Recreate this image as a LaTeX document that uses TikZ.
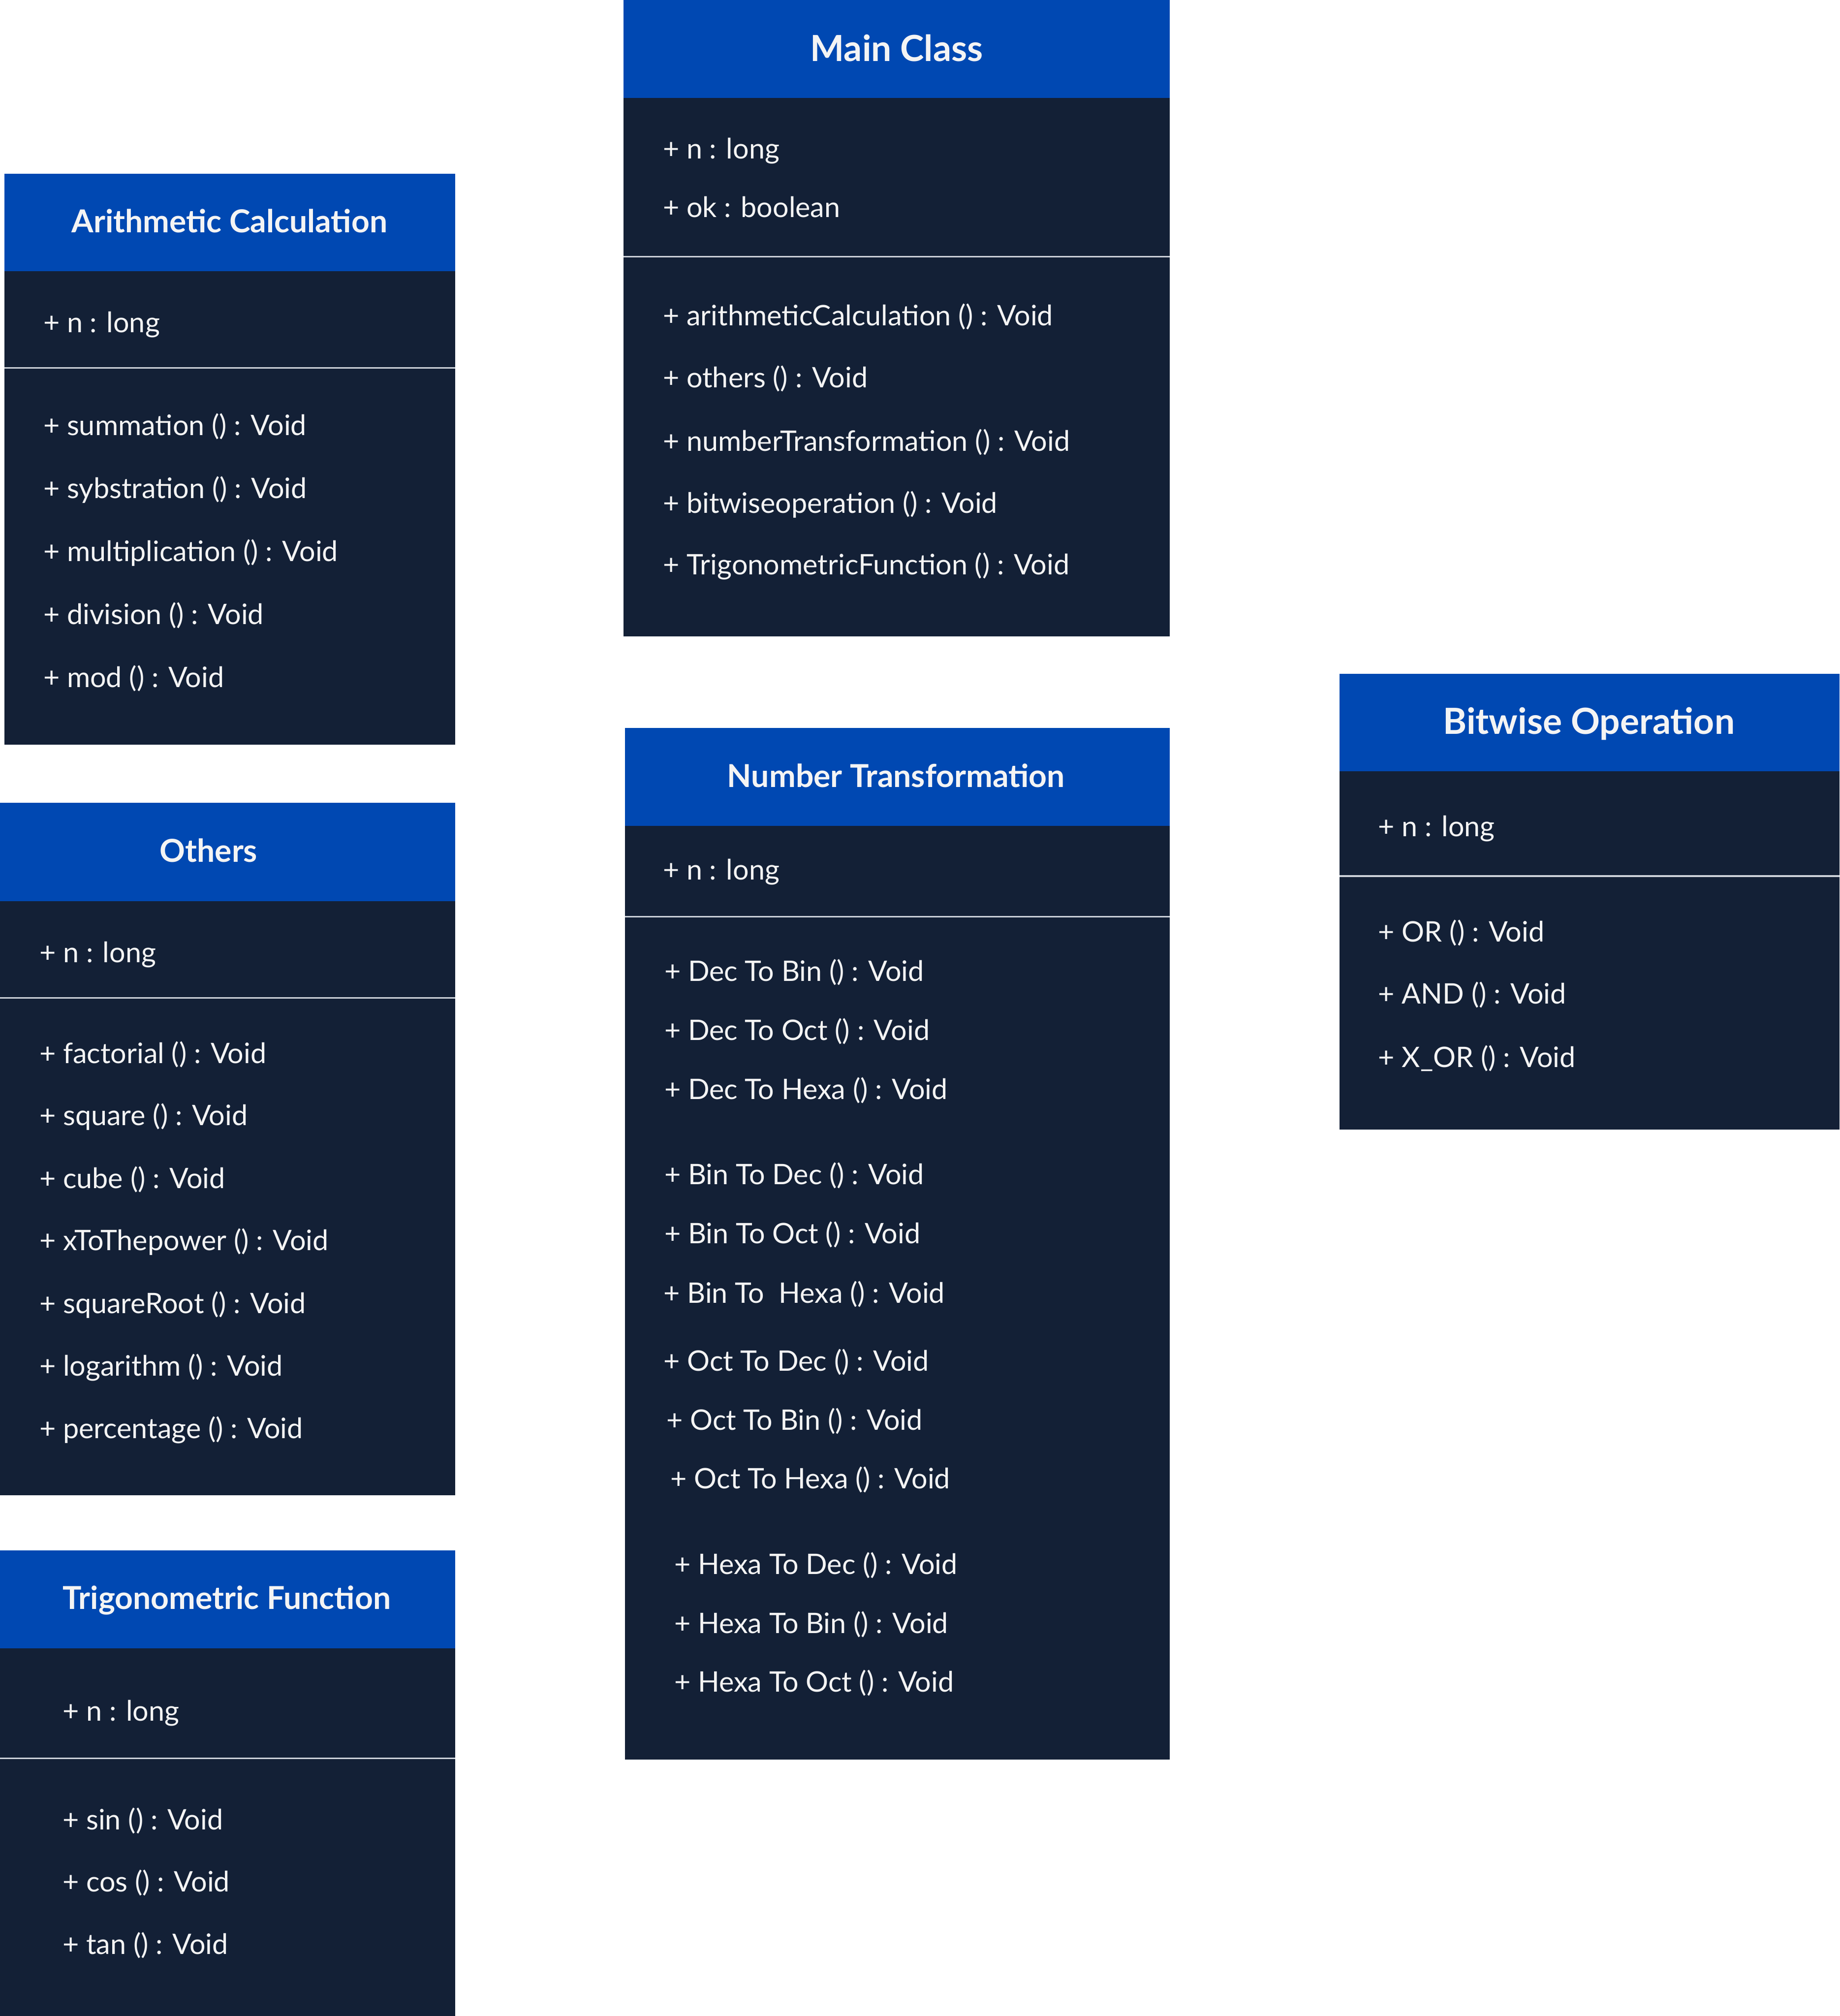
\documentclass[tikz,border=0pt]{standalone}
\usepackage{fontspec}
\setmainfont{Lato}
\definecolor{hdr}{HTML}{0048B2}
\definecolor{bodyc}{HTML}{132036}
\definecolor{divc}{HTML}{CDD2DA}
\definecolor{txt}{HTML}{F4F4F4}
\tikzset{
  hdrbox/.style={fill=hdr},
  bodybox/.style={fill=bodyc},
  divline/.style={draw=divc, line width=1.2pt},
  attr/.style={anchor=base west, inner sep=0pt, text=txt, font=\fontsize{22}{26}\selectfont},
  titlesm/.style={anchor=base, inner sep=0pt, text=txt, font=\fontsize{24.6}{29}\selectfont\bfseries},
  titlebig/.style={anchor=base, inner sep=0pt, text=txt, font=\fontsize{28}{33}\selectfont\bfseries},
}
\begin{document}
\begin{tikzpicture}[x=1pt,y=-1pt]
\useasboundingbox (0,0) rectangle (1431,1568);

% ---------- Main Class ----------
\fill[hdrbox] (485,0) rectangle (910,76);
\fill[bodybox] (485,76) rectangle (910,495);
\draw[divline] (485,199.5) -- (910,199.5);
\node[titlebig] (mainT) at (697.5,47.5) {Main Class};
\node[attr] (m1) at (515.5,123.5) {+ n : long};
\node[attr] (m2) at (515.5,169) {+ ok : boolean};
\node[attr] (m3) at (515.5,253.3) {+ arithmeticCalculation () : Void};
\node[attr] (m4) at (515.5,301.5) {+ others () : Void};
\node[attr] (m5) at (515.5,350.7) {+ numberTransformation () : Void};
\node[attr] (m6) at (515.5,398.9) {+ bitwiseoperation () : Void};
\node[attr] (m7) at (515.5,447.1) {+ TrigonometricFunction () : Void};

% ---------- Arithmetic Calculation ----------
\fill[hdrbox] (3.5,135) rectangle (354,211);
\fill[bodybox] (3.5,211) rectangle (354,579);
\draw[divline] (3.5,286) -- (354,286);
\node[titlesm] (arT) at (178.5,181) {Arithmetic Calculation};
\node[attr] (a1) at (33.5,258.5) {+ n : long};
\node[attr] (a2) at (33.5,338.5) {+ summation () : Void};
\node[attr] (a3) at (33.5,387.5) {+ sybstration () : Void};
\node[attr] (a4) at (33.5,436.5) {+ multiplication () : Void};
\node[attr] (a5) at (33.5,485.5) {+ division () : Void};
\node[attr] (a6) at (33.5,534.5) {+ mod () : Void};

% ---------- Others ----------
\fill[hdrbox] (0,624.5) rectangle (354,701);
\fill[bodybox] (0,701) rectangle (354,1163);
\draw[divline] (0,776) -- (354,776);
\node[titlesm] (otT) at (162.3,670.3) {Others};
\node[attr] (o1) at (30.5,748.7) {+ n : long};
\node[attr] (o2) at (30.5,827.1) {+ factorial () : Void};
\node[attr] (o3) at (30.5,875.2) {+ square () : Void};
\node[attr] (o4) at (30.5,924.4) {+ cube () : Void};
\node[attr] (o5) at (30.5,972.4) {+ xToThepower () : Void};
\node[attr] (o6) at (30.5,1021.6) {+ squareRoot () : Void};
\node[attr] (o7) at (30.5,1070.3) {+ logarithm () : Void};
\node[attr] (o8) at (30.5,1118.8) {+ percentage () : Void};

% ---------- Trigonometric Function ----------
\fill[hdrbox] (0,1206) rectangle (354,1282);
\fill[bodybox] (0,1282) rectangle (354,1568);
\draw[divline] (0,1367.5) -- (354,1367.5);
\node[titlesm] (trT) at (176.5,1251.6) {Trigonometric Function};
\node[attr] (t1) at (48.5,1338.4) {+ n : long};
\node[attr] (t2) at (48.5,1423) {+ sin () : Void};
\node[attr] (t3) at (48.5,1471.5) {+ cos () : Void};
\node[attr] (t4) at (48.5,1520) {+ tan () : Void};

% ---------- Number Transformation ----------
\fill[hdrbox] (486,566) rectangle (910,642.5);
\fill[bodybox] (486,642.5) rectangle (910,1368.4);
\draw[divline] (486,713) -- (910,713);
\node[titlesm] (ntT) at (697,612.3) {Number Transformation};
\node[attr] (n1) at (515.5,684.3) {+ n : long};
\node[attr] (n2) at (516.6,763.3) {+ Dec To Bin () : Void};
\node[attr] (n3) at (516.6,808.9) {+ Dec To Oct () : Void};
\node[attr] (n4) at (516.6,855.1) {+ Dec To Hexa () : Void};
\node[attr] (n5) at (516.6,921.4) {+ Bin To Dec () : Void};
\node[attr] (n6) at (516.6,967.1) {+ Bin To Oct () : Void};
\node[attr] (n7) at (516,1013.5) {+ Bin To\ \ Hexa () : Void};
\node[attr] (n8) at (516,1066.4) {+ Oct To Dec () : Void};
\node[attr] (n9) at (518.3,1112.1) {+ Oct To Bin () : Void};
\node[attr] (n10) at (521.5,1157.9) {+ Oct To Hexa () : Void};
\node[attr] (n11) at (524.3,1224.3) {+ Hexa To Dec () : Void};
\node[attr] (n12) at (524.3,1270.4) {+ Hexa To Bin () : Void};
\node[attr] (n13) at (524.3,1316) {+ Hexa To Oct () : Void};

% ---------- Bitwise Operation ----------
\fill[hdrbox] (1042,524) rectangle (1431,600);
\fill[bodybox] (1042,600) rectangle (1431,878.5);
\draw[divline] (1042,681.4) -- (1431,681.4);
\node[titlebig] (bwT) at (1236,571) {Bitwise Operation};
\node[attr] (b1) at (1072,650.5) {+ n : long};
\node[attr] (b2) at (1072,732.6) {+ OR () : Void};
\node[attr] (b3) at (1072,780.8) {+ AND () : Void};
\node[attr] (b4) at (1072,830) {+ X\_OR () : Void};
\end{tikzpicture}
\end{document}
